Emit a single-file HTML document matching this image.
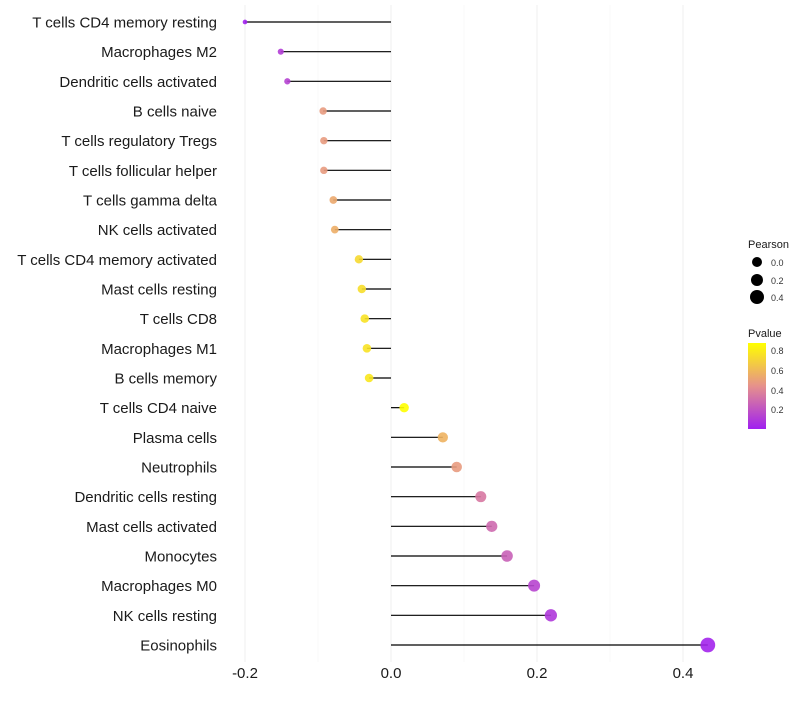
<!DOCTYPE html>
<html><head><meta charset="utf-8"><style>
body{margin:0;background:#fff;font-family:"Liberation Sans",sans-serif}
</style></head><body>
<svg id="chart" width="800" height="700" xmlns="http://www.w3.org/2000/svg" font-family="Liberation Sans, sans-serif">
<g id="grid"></g>
<g id="marks"></g>
<g id="ylabels"></g>
<g id="xlabels"></g>
<g id="legend">
<text x="748" y="248" font-size="11" fill="#1a1a1a">Pearson</text>
<circle cx="757" cy="262" r="5" fill="#000"/>
<text x="771" y="266" font-size="9" fill="#333">0.0</text>
<circle cx="757" cy="280" r="6" fill="#000"/>
<text x="771" y="284" font-size="9" fill="#333">0.2</text>
<circle cx="757" cy="297" r="7" fill="#000"/>
<text x="771" y="301" font-size="9" fill="#333">0.4</text>
<text x="748" y="337" font-size="11" fill="#1a1a1a">Pvalue</text>
<defs><linearGradient id="pg" x1="0" y1="1" x2="0" y2="0">
<stop offset="0" stop-color="#a020f0"/><stop offset="0.5" stop-color="#e6918c"/><stop offset="1" stop-color="#ffff00"/></linearGradient></defs>
<rect x="748" y="343" width="18" height="86" fill="url(#pg)"/>
<text x="771" y="354" font-size="9" fill="#333">0.8</text>
<text x="771" y="374" font-size="9" fill="#333">0.6</text>
<text x="771" y="394" font-size="9" fill="#333">0.4</text>
<text x="771" y="413" font-size="9" fill="#333">0.2</text>
</g>
</svg>
<script>
const categories=["T cells CD4 memory resting","Macrophages M2","Dendritic cells activated","B cells naive","T cells regulatory  Tregs","T cells follicular helper","T cells gamma delta","NK cells activated","T cells CD4 memory activated","Mast cells resting","T cells CD8","Macrophages M1","B cells memory","T cells CD4 naive","Plasma cells","Neutrophils","Dendritic cells resting","Mast cells activated","Monocytes","Macrophages M0","NK cells resting","Eosinophils"];
const pearson=[-0.2,-0.151,-0.142,-0.093,-0.092,-0.092,-0.079,-0.077,-0.044,-0.040,-0.036,-0.033,-0.030,0.018,0.071,0.090,0.123,0.138,0.159,0.196,0.219,0.434];
const pvalues=[0.01,0.12,0.14,0.5,0.5,0.5,0.56,0.58,0.76,0.78,0.8,0.8,0.82,0.92,0.6,0.5,0.36,0.3,0.26,0.15,0.1,0.02];
const xTicks=[-0.2,0,0.2,0.4];
const xTickLabels=["-0.2","0.0","0.2","0.4"];
const xMinor=[-0.1,0.1,0.3];
const NS="http://www.w3.org/2000/svg";
function xs(v){return 391+v*730;}
function ys(i){return 22+i*(623/21);}
function rs(v){return 8.8*Math.sqrt(Math.max(0,v+0.27));}
function col(p){const t=Math.min(1,p/0.92);const a=[160,32,240],m=[230,145,140],b=[255,255,0];let c;
if(t<0.5){const u=t/0.5;c=a.map((x,k)=>x+(m[k]-x)*u);}else{const u=(t-0.5)/0.5;c=m.map((x,k)=>x+(b[k]-x)*u);}
return "rgb("+c.map(Math.round).join(",")+")";}
function mk(t,a,p){const e=document.createElementNS(NS,t);for(const k in a)e.setAttribute(k,a[k]);p.appendChild(e);return e;}
const grid=document.getElementById('grid'),marks=document.getElementById('marks'),yl=document.getElementById('ylabels'),xl=document.getElementById('xlabels');
xMinor.forEach(v=>{const l=mk('line',{x1:xs(v),x2:xs(v),y1:5,y2:662,stroke:'#f4f4f4','stroke-width':0.6},grid);

});
xTicks.forEach((v,i)=>{const l=mk('line',{x1:xs(v),x2:xs(v),y1:5,y2:662,stroke:'#efefef','stroke-width':1},grid);


const t=mk('text',{x:xs(v),y:678,'font-size':15,'text-anchor':'middle',fill:'#1a1a1a'},xl);t.textContent=xTickLabels[i];

});
categories.forEach((c,i)=>{const y=ys(i);
const l=mk('line',{x1:xs(0),x2:xs(pearson[i]),y1:y,y2:y,stroke:'#000','stroke-width':1.2},marks);


const d=mk('circle',{cx:xs(pearson[i]),cy:y,r:rs(pearson[i]),fill:col(pvalues[i]),'fill-opacity':0.9},marks);


const t=mk('text',{x:217,y:y+5.5,'font-size':15,'text-anchor':'end',fill:'#1a1a1a'},yl);t.textContent=c;

});
</script>
</body></html>
